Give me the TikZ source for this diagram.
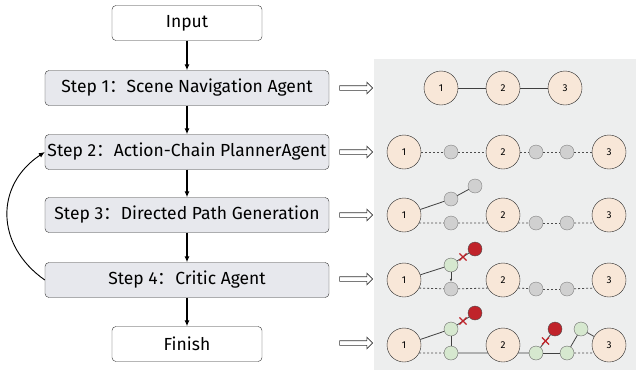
\documentclass[tikz,border=0pt]{standalone}
\usepackage{fontspec}
\setmainfont{Fira Sans}
\newfontfamily\cjk{Noto Sans CJK SC}
\usetikzlibrary{arrows.meta,shapes.arrows,shapes.misc}
\definecolor{boxgray}{HTML}{E7E8ED}
\definecolor{panelgray}{HTML}{EDEEEE}
\definecolor{peach}{HTML}{F8E7D8}
\definecolor{dotgray}{HTML}{D0D0D0}
\definecolor{dotgreen}{HTML}{D6E8CF}
\definecolor{dotred}{HTML}{C0232A}
\newcommand{\stepcolon}{{\cjk ：}}
\begin{document}
\begin{tikzpicture}[x=1pt, y=-1pt,
  box/.style={draw=black!80, rounded corners=4pt, minimum height=35pt, inner sep=0pt, font=\fontsize{17.5}{19}\selectfont},
  stepbox/.style={box, fill=boxgray, minimum width=284pt},
  endbox/.style={box, fill=white, minimum width=150pt},
  flow/.style={-{Latex[length=6pt,width=5pt]}, line width=1.1pt},
  hollow/.style={single arrow, draw=black!80, fill=white, minimum height=33pt, minimum width=11pt, single arrow head extend=3.5pt, inner xsep=0pt, inner ysep=2pt, line width=0.6pt},
  city/.style={circle, draw=black!85, fill=peach, minimum size=34pt, inner sep=0pt, font=\fontsize{10}{10}\selectfont},
  wp/.style={circle, draw=black!50, fill=dotgray, minimum size=14pt, inner sep=0pt},
  ok/.style={wp, draw=black!60, fill=dotgreen},
  bad/.style={wp, draw=black!70, fill=dotred},
  link/.style={draw=black!75, line width=0.8pt},
  gap/.style={draw=black!70, dash pattern=on 2pt off 2pt, line width=0.8pt},
  cut/.style={cross out, draw=dotred, line width=1.1pt, minimum size=6pt, inner sep=0pt}]
\useasboundingbox (0,0) rectangle (636,370);
\fill[panelgray] (374,59) rectangle (636,370);

% pipeline
\node[endbox] (S_0) at (187,23) {Input};
\node[stepbox] (S_1) at (187,88) {Step 1\stepcolon Scene Navigation Agent};
\node[stepbox] (S_2) at (187,152) {Step 2\stepcolon Action-Chain PlannerAgent};
\node[stepbox] (S_3) at (187,215) {Step 3\stepcolon Directed Path Generation};
\node[stepbox] (S_4) at (187,280) {Step 4\stepcolon Critic Agent};
\node[endbox] (S_5) at (187,344) {Finish};
\draw[flow] (S_0) -- (S_1);
\draw[flow] (S_1) -- (S_2);
\draw[flow] (S_2) -- (S_3);
\draw[flow] (S_3) -- (S_4);
\draw[flow] (S_4) -- (S_5);
\draw[-{Latex[length=6pt,width=5pt]}, line width=0.9pt] (S_4.west) .. controls (-5,245) and (-5,185) .. (S_2.west);

\foreach \i/\y in {1/88,2/152,3/215,4/279,5/343}
  \node[hollow] (A_\i) at (355,\y) {};

% row 1
\node[city] (C_1_1) at (441,88) {1};
\node[city] (C_1_2) at (503,88) {2};
\node[city] (C_1_3) at (565,88) {3};
\draw[link] (C_1_1) -- (C_1_2);
\draw[link] (C_1_2) -- (C_1_3);

% row 2
\node[city] (C_2_1) at (404,152) {1};
\node[city] (C_2_2) at (503,152) {2};
\node[city] (C_2_3) at (609,152) {3};
\node[wp] (W_2_1) at (451,152) {};
\node[wp] (W_2_2) at (536,152) {};
\node[wp] (W_2_3) at (567,152) {};
\draw[gap] (C_2_1) -- (W_2_1);
\draw[gap] (W_2_1) -- (C_2_2);
\draw[gap] (C_2_2) -- (W_2_2);
\draw[gap] (W_2_2) -- (W_2_3);
\draw[gap] (W_2_3) -- (C_2_3);

% row 3
\node[city] (C_3_1) at (404,215) {1};
\node[city] (C_3_2) at (503,215) {2};
\node[city] (C_3_3) at (609,215) {3};
\node[wp] (W_3_1) at (451,223) {};
\node[wp] (W_3_2) at (536,223) {};
\node[wp] (W_3_3) at (567,223) {};
\node[wp] (W_3_4) at (451,199) {};
\node[wp] (W_3_5) at (475,186) {};
\draw[gap] (C_3_1.-28) -- (W_3_1);
\draw[gap] (W_3_1) -- (C_3_2.208);
\draw[gap] (C_3_2.-28) -- (W_3_2);
\draw[gap] (W_3_2) -- (W_3_3);
\draw[gap] (W_3_3) -- (C_3_3.208);
\draw[link] (C_3_1) -- (W_3_4);
\draw[link] (W_3_4) -- (W_3_5);

% row 4
\node[city] (C_4_1) at (404,280) {1};
\node[city] (C_4_2) at (503,280) {2};
\node[city] (C_4_3) at (609,280) {3};
\node[wp] (W_4_1) at (451,289) {};
\node[wp] (W_4_2) at (536,289) {};
\node[wp] (W_4_3) at (567,289) {};
\node[ok] (K_4_1) at (451,265) {};
\node[bad] (R_4_1) at (475,249) {};
\draw[gap] (C_4_1.-28) -- (W_4_1);
\draw[gap] (W_4_1) -- (C_4_2.208);
\draw[gap] (C_4_2.-28) -- (W_4_2);
\draw[gap] (W_4_2) -- (W_4_3);
\draw[gap] (W_4_3) -- (C_4_3.208);
\draw[link] (C_4_1) -- (K_4_1);
\draw[link] (K_4_1) -- (R_4_1) node[cut, midway] {};
\draw[link, -{Latex[length=3pt,width=2.5pt]}] (K_4_1) -- (W_4_1);

% row 5
\node[city] (C_5_1) at (404,345) {1};
\node[city] (C_5_2) at (503,345) {2};
\node[city] (C_5_3) at (609,345) {3};
\node[ok] (K_5_1) at (451,329) {};
\node[bad] (R_5_1) at (475,313) {};
\node[ok] (K_5_2) at (451,353) {};
\node[ok] (K_5_3) at (536,353) {};
\node[ok] (K_5_4) at (567,353) {};
\node[bad] (R_5_2) at (555,329) {};
\node[ok] (K_5_5) at (581,329) {};
\draw[link] (C_5_1) -- (K_5_1);
\draw[link] (K_5_1) -- (R_5_1) node[cut, midway] {};
\draw[link] (K_5_1) -- (K_5_2);
\draw[gap] (C_5_1.-28) -- (K_5_2);
\draw[link] (K_5_2) -- (C_5_2.208);
\draw[link] (C_5_2.-28) -- (K_5_3);
\draw[link] (K_5_3) -- (R_5_2) node[cut, midway] {};
\draw[link] (K_5_3) -- (K_5_4);
\draw[link] (K_5_4) -- (K_5_5);
\draw[link] (K_5_5) -- (C_5_3);
\draw[gap] (K_5_4) -- (C_5_3.208);
\end{tikzpicture}
\end{document}
